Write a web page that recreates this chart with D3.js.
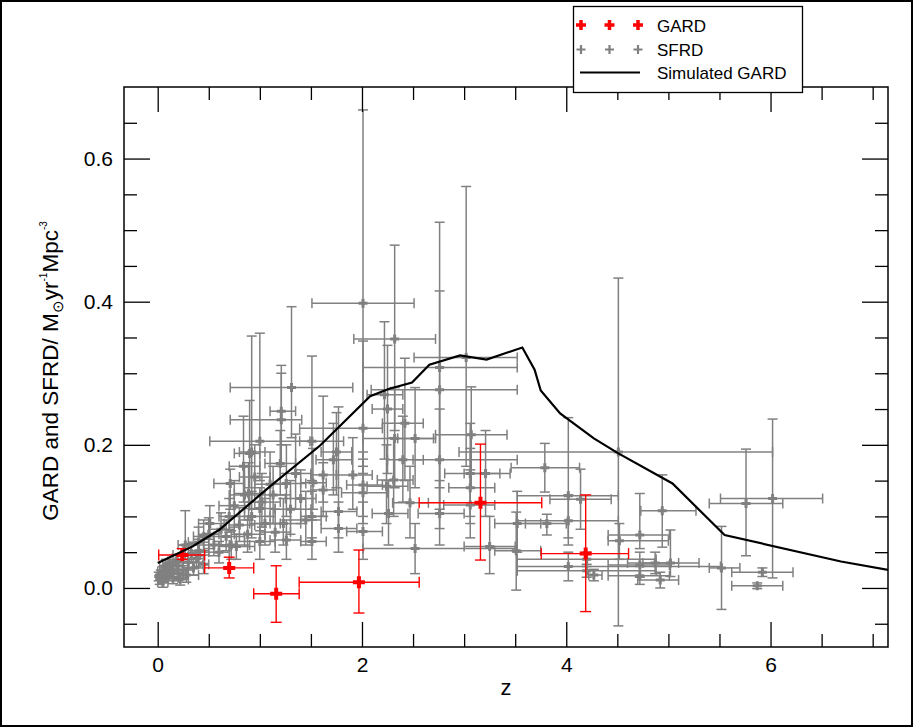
<!DOCTYPE html>
<html>
<head>
<meta charset="utf-8">
<script src="https://cdn.jsdelivr.net/npm/d3@7"></script>
<style>
  body { margin: 0; background: #fff; }
  svg { display: block; font-family: "Liberation Sans", Arial, Helvetica, sans-serif; }
</style>
</head>
<body>
<svg id="chart" width="914" height="728"></svg>
<script>
// GARD measurements: z, value, z low, z high, value low, value high
var gard = [
  [0.24, 0.046, 0.01, 0.46, 0.040, 0.055],
  [0.70, 0.028, 0.46, 0.94, 0.014, 0.043],
  [1.16, -0.008, 0.94, 1.385, -0.048, 0.031],
  [1.97, 0.008, 1.385, 2.56, -0.035, 0.053],
  [3.16, 0.119, 2.56, 3.76, 0.039, 0.201],
  [4.19, 0.048, 3.755, 4.61, -0.033, 0.130]
];

// SFRD compilation, same columns, split by redshift range
var sfrdLocal = [
  [0.02, 0.012, 0.00, 0.05, 0.005, 0.019],
  [0.03, 0.019, 0.00, 0.06, 0.013, 0.025],
  [0.05, 0.015, 0.01, 0.10, 0.008, 0.022],
  [0.05, 0.023, 0.00, 0.10, 0.016, 0.030],
  [0.07, 0.020, 0.03, 0.12, 0.012, 0.028],
  [0.10, 0.017, 0.05, 0.15, 0.010, 0.025],
  [0.10, 0.027, 0.05, 0.15, 0.019, 0.035],
  [0.12, 0.021, 0.06, 0.20, 0.013, 0.030],
  [0.15, 0.025, 0.10, 0.20, 0.016, 0.033],
  [0.15, 0.014, 0.10, 0.20, 0.006, 0.022],
  [0.20, 0.020, 0.10, 0.30, 0.010, 0.030],
  [0.20, 0.031, 0.15, 0.25, 0.022, 0.040],
  [0.25, 0.025, 0.20, 0.30, 0.015, 0.035],
  [0.28, 0.018, 0.20, 0.40, 0.008, 0.028],
  [0.30, 0.036, 0.20, 0.40, 0.025, 0.047],
  [0.35, 0.028, 0.25, 0.45, 0.018, 0.040],
  [0.38, 0.041, 0.30, 0.45, 0.030, 0.052],
  [0.08, 0.031, 0.02, 0.14, 0.022, 0.040],
  [0.18, 0.037, 0.10, 0.30, 0.026, 0.047],
  [0.25, 0.046, 0.15, 0.40, 0.031, 0.060],
  [0.27, 0.060, 0.20, 0.45, 0.040, 0.108],
  [0.40, 0.052, 0.30, 0.50, 0.036, 0.068],
  [0.45, 0.033, 0.40, 0.50, 0.020, 0.046],
  [0.05, 0.008, 0.00, 0.10, 0.001, 0.015],
  [0.01, 0.016, 0.00, 0.03, 0.010, 0.022],
  [0.40, 0.064, 0.30, 0.50, 0.045, 0.085],
  [0.45, 0.072, 0.35, 0.55, 0.050, 0.095],
  [0.33, 0.048, 0.25, 0.42, 0.035, 0.062],
  [0.12, 0.033, 0.05, 0.20, 0.026, 0.040],
  [0.22, 0.012, 0.15, 0.30, 0.004, 0.020]
];

var sfrdRise = [
  [0.50, 0.075, 0.40, 0.60, 0.055, 0.098],
  [0.51, 0.090, 0.40, 0.65, 0.068, 0.115],
  [0.55, 0.060, 0.45, 0.70, 0.045, 0.075],
  [0.60, 0.050, 0.50, 0.70, 0.035, 0.065],
  [0.62, 0.082, 0.50, 0.75, 0.060, 0.105],
  [0.67, 0.072, 0.50, 0.85, 0.052, 0.095],
  [0.70, 0.100, 0.60, 0.80, 0.078, 0.125],
  [0.71, 0.146, 0.55, 0.85, 0.110, 0.166],
  [0.72, 0.060, 0.55, 0.90, 0.040, 0.080],
  [0.75, 0.115, 0.60, 0.90, 0.085, 0.150],
  [0.77, 0.058, 0.60, 0.95, 0.040, 0.075],
  [0.80, 0.088, 0.70, 0.95, 0.065, 0.112],
  [0.84, 0.170, 0.70, 1.00, 0.120, 0.240],
  [0.85, 0.130, 0.70, 1.00, 0.095, 0.170],
  [0.88, 0.075, 0.75, 1.05, 0.050, 0.100],
  [0.89, 0.132, 0.75, 1.05, 0.095, 0.175],
  [0.90, 0.188, 0.75, 1.00, 0.140, 0.262],
  [0.92, 0.100, 0.80, 1.10, 0.070, 0.135],
  [0.92, 0.190, 0.80, 1.05, 0.120, 0.352],
  [0.95, 0.155, 0.80, 1.10, 0.110, 0.200],
  [1.00, 0.205, 0.51, 1.49, 0.150, 0.356],
  [1.00, 0.111, 0.85, 1.15, 0.080, 0.140],
  [1.00, 0.065, 0.85, 1.15, 0.040, 0.090],
  [1.02, 0.120, 0.90, 1.20, 0.085, 0.160],
  [1.05, 0.090, 0.90, 1.20, 0.060, 0.125],
  [1.10, 0.145, 0.95, 1.25, 0.100, 0.190],
  [1.13, 0.130, 1.00, 1.30, 0.090, 0.170],
  [1.15, 0.078, 1.00, 1.30, 0.050, 0.110],
  [1.20, 0.174, 1.05, 1.35, 0.130, 0.220],
  [1.21, 0.235, 0.71, 1.41, 0.170, 0.311],
  [1.21, 0.247, 1.10, 1.35, 0.200, 0.300],
  [1.23, 0.090, 1.10, 1.40, 0.060, 0.125],
  [1.31, 0.280, 0.71, 1.91, 0.210, 0.393],
  [1.26, 0.146, 1.10, 1.45, 0.100, 0.200],
  [1.26, 0.067, 1.10, 1.40, 0.040, 0.095],
  [1.30, 0.110, 1.15, 1.50, 0.075, 0.150],
  [1.35, 0.160, 1.20, 1.50, 0.110, 0.215],
  [1.40, 0.125, 1.25, 1.55, 0.090, 0.165],
  [1.45, 0.095, 1.30, 1.60, 0.060, 0.135],
  [1.51, 0.205, 1.39, 1.82, 0.150, 0.324],
  [1.52, 0.147, 1.40, 1.65, 0.110, 0.195],
  [1.51, 0.100, 1.40, 1.65, 0.070, 0.135],
  [1.51, 0.065, 1.40, 1.65, 0.040, 0.095]
];

var sfrdPeak = [
  [1.62, 0.158, 1.50, 1.75, 0.120, 0.268],
  [1.62, 0.137, 1.50, 1.75, 0.100, 0.175],
  [1.72, 0.179, 1.55, 1.90, 0.130, 0.230],
  [1.75, 0.190, 1.60, 1.90, 0.140, 0.245],
  [1.77, 0.107, 1.60, 1.95, 0.070, 0.253],
  [1.77, 0.083, 1.60, 1.95, 0.050, 0.120],
  [1.91, 0.158, 1.75, 2.10, 0.110, 0.210],
  [2.01, 0.398, 1.51, 2.51, 0.170, 0.668],
  [2.01, 0.223, 1.39, 2.20, 0.160, 0.345],
  [2.01, 0.144, 1.85, 2.20, 0.100, 0.190],
  [2.01, 0.133, 1.80, 2.25, 0.090, 0.180],
  [2.01, 0.079, 1.85, 2.20, 0.040, 0.120],
  [2.22, 0.270, 2.05, 2.40, 0.180, 0.372],
  [2.24, 0.142, 2.05, 2.45, 0.090, 0.200],
  [2.25, 0.250, 2.10, 2.40, 0.160, 0.339],
  [2.26, 0.104, 2.10, 2.45, 0.060, 0.150],
  [2.31, 0.151, 2.15, 2.50, 0.100, 0.210],
  [2.32, 0.348, 1.92, 2.72, 0.220, 0.479],
  [2.32, 0.209, 2.01, 2.72, 0.140, 0.280],
  [2.40, 0.179, 2.25, 2.60, 0.120, 0.240],
  [2.42, 0.230, 2.20, 2.60, 0.150, 0.321],
  [2.47, 0.119, 2.30, 2.65, 0.070, 0.170],
  [2.52, 0.209, 2.35, 2.70, 0.140, 0.280],
  [2.52, 0.055, 2.01, 3.52, 0.020, 0.090],
  [2.76, 0.308, 2.01, 3.52, 0.083, 0.511],
  [2.76, 0.277, 2.09, 3.52, 0.140, 0.415],
  [2.76, 0.179, 2.50, 3.52, 0.110, 0.250],
  [2.76, 0.104, 2.55, 3.00, 0.060, 0.150],
  [3.02, 0.322, 2.51, 3.52, 0.170, 0.561],
  [3.06, 0.160, 2.81, 3.35, 0.100, 0.230],
  [3.06, 0.140, 2.85, 3.30, 0.090, 0.195],
  [3.06, 0.116, 2.80, 3.30, 0.070, 0.165],
  [3.07, 0.214, 2.72, 3.42, 0.140, 0.281],
  [3.21, 0.160, 3.00, 3.45, 0.100, 0.220],
  [3.25, 0.058, 3.00, 3.50, 0.020, 0.100],
  [3.52, 0.090, 3.30, 3.75, 0.050, 0.135],
  [3.51, 0.052, 3.30, 3.75, -0.003, 0.106]
];

var sfrdHigh = [
  [3.79, 0.168, 3.46, 4.13, 0.134, 0.202],
  [3.81, 0.090, 3.60, 4.00, 0.074, 0.103],
  [4.02, 0.129, 3.52, 4.51, 0.070, 0.238],
  [4.02, 0.094, 3.52, 4.51, 0.060, 0.130],
  [4.02, 0.030, 3.52, 5.51, 0.010, 0.050],
  [4.14, 0.124, 3.84, 4.44, 0.082, 0.166],
  [4.20, 0.040, 3.52, 4.88, 0.030, 0.050],
  [4.20, 0.024, 3.52, 4.88, 0.015, 0.033],
  [4.27, 0.018, 4.22, 4.35, 0.010, 0.026],
  [4.51, 0.190, 2.95, 6.02, -0.053, 0.433],
  [4.52, 0.066, 4.41, 5.00, 0.040, 0.090],
  [4.72, 0.074, 4.41, 5.01, 0.055, 0.132],
  [4.72, 0.032, 4.41, 5.01, 0.015, 0.050],
  [4.72, 0.017, 4.41, 5.01, 0.005, 0.030],
  [4.87, 0.035, 4.60, 5.10, 0.020, 0.050],
  [4.92, 0.011, 4.70, 5.10, 0.000, 0.022],
  [4.94, 0.108, 4.73, 5.27, 0.057, 0.158],
  [5.02, 0.035, 4.75, 5.30, 0.016, 0.081],
  [5.52, 0.028, 5.40, 5.70, -0.030, 0.086],
  [5.76, 0.118, 5.40, 6.12, 0.045, 0.194],
  [6.02, 0.125, 5.51, 6.51, 0.014, 0.236],
  [5.92, 0.022, 5.62, 6.22, 0.016, 0.028],
  [5.87, 0.003, 5.62, 6.12, -0.001, 0.007]
];

// simulated GARD curve
var simZ = [0, 0.34, 0.6, 1.1, 1.59, 2.08, 2.26, 2.49, 2.66, 2.96, 3.22, 3.57, 3.69, 3.75, 3.94, 4.27, 4.51, 5.04, 5.55, 6.69, 7.16];
var simV = [0.035, 0.058, 0.081, 0.142, 0.199, 0.268, 0.278, 0.287, 0.312, 0.325, 0.319, 0.336, 0.305, 0.276, 0.244, 0.209, 0.188, 0.146, 0.074, 0.037, 0.025];

var xTicks = [0, 2, 4, 6];
var yTicks = [0.0, 0.2, 0.4, 0.6];
var minorX = [0.5, 1, 1.5, 2.5, 3, 3.5, 4.5, 5, 5.5, 6.5, 7];
var minorY = [-0.05, 0.05, 0.1, 0.15, 0.25, 0.3, 0.35, 0.45, 0.5, 0.55, 0.65];
var legendLabels = ["GARD", "SFRD", "Simulated GARD"];

var W = 914, H = 728;
var plotL = 124, plotR = 888, plotT = 87, plotB = 647;

var svg = d3.select("#chart");

var x = d3.scaleLinear().domain([-0.33, 7.15]).range([plotL, plotR]);
var y = d3.scaleLinear().domain([-0.0825, 0.70]).range([plotB, plotT]);

// outer frame of the picture
svg.append("rect")
  .attr("x", 1).attr("y", 1)
  .attr("width", W - 3).attr("height", H - 3)
  .attr("fill", "none").attr("stroke", "#000").attr("stroke-width", 2);

svg.append("defs").append("clipPath").attr("id", "plotclip")
  .append("rect")
  .attr("x", plotL).attr("y", plotT)
  .attr("width", plotR - plotL).attr("height", plotB - plotT);

var plot = svg.append("g").attr("clip-path", "url(#plotclip)");

function errorBars(g, data, color, lw, cap, mark, mw) {
  var pts = g.selectAll(null).data(data).enter().append("g")
    .attr("stroke", color).attr("fill", "none");
  pts.append("line")
    .attr("x1", function(d) { return x(d[2]); })
    .attr("x2", function(d) { return x(d[3]); })
    .attr("y1", function(d) { return y(d[1]); })
    .attr("y2", function(d) { return y(d[1]); })
    .attr("stroke-width", lw);
  pts.append("line")
    .attr("x1", function(d) { return x(d[0]); })
    .attr("x2", function(d) { return x(d[0]); })
    .attr("y1", function(d) { return y(d[4]); })
    .attr("y2", function(d) { return y(d[5]); })
    .attr("stroke-width", lw);
  // caps
  [2, 3].forEach(function(k) {
    pts.append("line")
      .attr("x1", function(d) { return x(d[k]); })
      .attr("x2", function(d) { return x(d[k]); })
      .attr("y1", function(d) { return y(d[1]) - cap; })
      .attr("y2", function(d) { return y(d[1]) + cap; })
      .attr("stroke-width", lw);
  });
  [4, 5].forEach(function(k) {
    pts.append("line")
      .attr("x1", function(d) { return x(d[0]) - cap; })
      .attr("x2", function(d) { return x(d[0]) + cap; })
      .attr("y1", function(d) { return y(d[k]); })
      .attr("y2", function(d) { return y(d[k]); })
      .attr("stroke-width", lw);
  });
  // plus marker
  pts.append("path")
    .attr("d", function(d) {
      var cx = x(d[0]), cy = y(d[1]);
      return "M" + (cx - mark) + "," + cy + "H" + (cx + mark) +
             "M" + cx + "," + (cy - mark) + "V" + (cy + mark);
    })
    .attr("stroke-width", mw);
}

var sfrd = sfrdLocal.concat(sfrdRise, sfrdPeak, sfrdHigh);
errorBars(plot.append("g"), sfrd, "#808080", 1.5, 5, 4.5, 3);
errorBars(plot.append("g"), gard, "#ff0000", 1.4, 5.5, 6, 4);

var line = d3.line()
  .x(function(d) { return x(d[0]); })
  .y(function(d) { return y(d[1]); });

plot.append("path")
  .datum(d3.zip(simZ, simV))
  .attr("d", line)
  .attr("fill", "none").attr("stroke", "#000").attr("stroke-width", 2.2);

// axes, ticks pointing inward on all four sides
function styleAxis(g) {
  g.select(".domain").remove();
  g.selectAll(".tick line").attr("stroke", "#000").attr("stroke-width", 1.3);
  g.selectAll("text").attr("font-size", 21).attr("fill", "#000")
    .attr("font-family", "'Liberation Sans', Arial, Helvetica, sans-serif");
}

svg.append("g").attr("transform", "translate(0," + plotB + ")")
  .call(d3.axisBottom(x).tickValues(xTicks).tickSize(-25).tickPadding(10).tickFormat(d3.format("d")))
  .call(styleAxis);
svg.append("g").attr("transform", "translate(0," + plotB + ")")
  .call(d3.axisBottom(x).tickValues(minorX).tickSize(-13).tickFormat(""))
  .call(styleAxis);
svg.append("g").attr("transform", "translate(0," + plotT + ")")
  .call(d3.axisTop(x).tickValues(xTicks).tickSize(-25).tickFormat(""))
  .call(styleAxis);
svg.append("g").attr("transform", "translate(0," + plotT + ")")
  .call(d3.axisTop(x).tickValues(minorX).tickSize(-13).tickFormat(""))
  .call(styleAxis);

svg.append("g").attr("transform", "translate(" + plotL + ",0)")
  .call(d3.axisLeft(y).tickValues(yTicks).tickSize(-26).tickPadding(11).tickFormat(d3.format(".1f")))
  .call(styleAxis);
svg.append("g").attr("transform", "translate(" + plotL + ",0)")
  .call(d3.axisLeft(y).tickValues(minorY).tickSize(-13).tickFormat(""))
  .call(styleAxis);
svg.append("g").attr("transform", "translate(" + plotR + ",0)")
  .call(d3.axisRight(y).tickValues(yTicks).tickSize(-26).tickFormat(""))
  .call(styleAxis);
svg.append("g").attr("transform", "translate(" + plotR + ",0)")
  .call(d3.axisRight(y).tickValues(minorY).tickSize(-13).tickFormat(""))
  .call(styleAxis);

svg.append("rect")
  .attr("x", plotL).attr("y", plotT)
  .attr("width", plotR - plotL).attr("height", plotB - plotT)
  .attr("fill", "none").attr("stroke", "#000").attr("stroke-width", 1.5);

// axis titles
svg.append("text")
  .attr("x", (plotL + plotR) / 2).attr("y", 695)
  .attr("text-anchor", "middle").attr("font-size", 22)
  .text("z");

var yl = svg.append("text")
  .attr("transform", "translate(58," + 371 + ") rotate(-90)")
  .attr("text-anchor", "middle").attr("font-size", 22.5);
yl.append("tspan").text("GARD and SFRD/ M");
yl.append("tspan").attr("font-size", 15).attr("dy", 5).text("\u2299");
yl.append("tspan").attr("dy", -5).text("yr");
yl.append("tspan").attr("font-size", 10).attr("dy", -11).text("-1");
yl.append("tspan").attr("dy", 11).text("Mpc");
yl.append("tspan").attr("font-size", 10).attr("dy", -11).text("-3");

// legend
var lg = svg.append("g");
lg.append("rect")
  .attr("x", 573.5).attr("y", 6.5).attr("width", 229).attr("height", 86)
  .attr("fill", "#fff").attr("stroke", "#000").attr("stroke-width", 1.3);

var legendRows = [25, 49.5, 72.5];
var markX = [581, 609.5, 638];
[["#ff0000", 5, 3.5], ["#808080", 4.5, 2.2]].forEach(function(s, i) {
  lg.selectAll(null).data(markX).enter().append("path")
    .attr("d", function(cx) {
      var cy = legendRows[i], m = s[1];
      return "M" + (cx - m) + "," + cy + "H" + (cx + m) + "M" + cx + "," + (cy - m) + "V" + (cy + m);
    })
    .attr("stroke", s[0]).attr("stroke-width", s[2]).attr("fill", "none");
});
lg.append("line")
  .attr("x1", 580).attr("x2", 640).attr("y1", legendRows[2]).attr("y2", legendRows[2])
  .attr("stroke", "#000").attr("stroke-width", 2);

lg.selectAll(null).data(legendLabels).enter().append("text")
  .attr("x", 657)
  .attr("y", function(d, i) { return legendRows[i] + 6.5; })
  .attr("font-size", 17)
  .text(function(d) { return d; });
</script>
</body>
</html>
